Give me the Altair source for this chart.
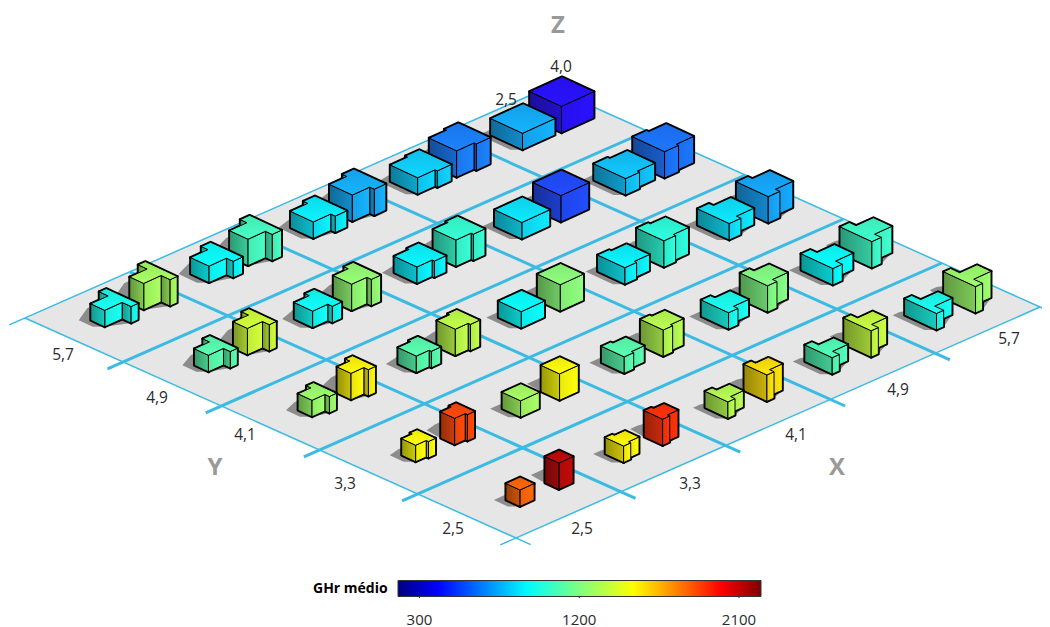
import altair as alt

AXIS_VALUES = [2.5, 3.3, 4.1, 4.9, 5.7]
AXIS_LABELS = ["2,5", "3,3", "4,1", "4,9", "5,7"]
Z_VALUES = [4.0, 2.5]

# rows: y = 2.5 .. 5.7, columns: x = 2.5 .. 5.7
GHR_Z25 = [
    [1815, 1530, 1325, 1080, 955],
    [1510, 1283, 1100, 955, 915],
    [1260, 1100, 915, 885, 855],
    [1100, 935, 885, 855, 790],
    [955, 915, 875, 815, 745],
]
GHR_Z40 = [
    [2120, 1920, 1570, 1365, 1260],
    [1875, 1510, 1325, 1200, 1040],
    [1530, 1345, 1220, 1000, 730],
    [1385, 1240, 1020, 540, 625],
    [1285, 1060, 750, 650, 420],
]

DOMAIN = [179, 404, 915, 1200, 1508, 2000, 2224]
RANGE = ["#00007f", "#0000ff", "#00ffff", "#7fff7f", "#ffff00", "#ff0000", "#7f0000"]
TICKS = [300, 1200, 2100]

W, H = 1034, 619


def color_rgb(v):
    for a, b, ca, cb in zip(DOMAIN, DOMAIN[1:], RANGE, RANGE[1:]):
        if v <= b:
            t = (v - a) / (b - a)
            pa = [int(ca[i:i + 2], 16) for i in (1, 3, 5)]
            pb = [int(cb[i:i + 2], 16) for i in (1, 3, 5)]
            c = [pa[k] + (pb[k] - pa[k]) * t for k in range(3)]
            # the printed blues of the boxes are slightly washed out
            c[0] = max(c[0], 34 * (1 - c[1] / 255) * (c[2] / 255))
            return c
    return [127, 0, 0]


def shade(rgb, f):
    return "#%02x%02x%02x" % tuple(max(0, min(255, int(c * f + 10))) for c in rgb)


def grad(rgb, f0, f1, vertical=False):
    return {
        "gradient": "linear",
        "x1": 0,
        "y1": 0,
        "x2": 0 if vertical else 1,
        "y2": 1 if vertical else 0,
        "stops": [{"offset": 0, "color": shade(rgb, f0)}, {"offset": 1, "color": shade(rgb, f1)}],
    }


# floor projection (grid cells)
FB = (516, 538)
FX = (104.8, -46.2)
FY = (-98.2, -44.0)


def fl(i, j):
    return [FB[0] + i * FX[0] + j * FY[0], FB[1] + i * FX[1] + j * FY[1]]


def feat(kind, coords, **props):
    return {"type": "Feature", "geometry": {"type": kind, "coordinates": coords}, "properties": props}


floor = [feat("Polygon", [[fl(0, 0), fl(5, 0), fl(5, 5), fl(0, 5), fl(0, 0)]])]
lines = []
for k in range(6):
    sw = 1.5 if k in (0, 5) else 3
    lines.append(feat("LineString", [fl(k, -0.15), fl(k, 5)], sw=sw))
    lines.append(feat("LineString", [fl(-0.15, k), fl(5, k)], sw=sw))

# box placement
O = (520, 500)
EX = (103.2 / 0.8, -45.75 / 0.8)
EY = (-102.5 / 0.8, -45.5 / 0.8)
ZSHIFT = (39 / 1.5, -17 / 1.5)
UX = (5.7, -2.6)
UY = (-5.6, -2.6)
HK = 6.6


def footprint(x, y):
    L, S = max(x, y), min(x, y)
    if L == S:
        return [(0, 0), (S, 0), (S, S), (0, S)], S, S
    d = (L - S) / 2
    w = 0.5 * S
    U = (L + S) / 2 + 0.2
    if x < y:
        return [(0, d), (U - w, d), (U - w, 0), (U, 0), (U, L), (U - w, L), (U - w, d + S), (0, d + S)], U, L
    return [(0, 0), (w, 0), (w, d), (U, d), (U, d + S), (w, d + S), (w, L), (0, L)], U, L


def hull(points):
    pts = sorted(set((round(p[0], 2), round(p[1], 2)) for p in points))

    def cross(o, a, b):
        return (a[0] - o[0]) * (b[1] - o[1]) - (a[1] - o[1]) * (b[0] - o[0])

    lo, up = [], []
    for p in pts:
        while len(lo) > 1 and cross(lo[-2], lo[-1], p) <= 0:
            lo.pop()
        lo.append(p)
    for p in reversed(pts):
        while len(up) > 1 and cross(up[-2], up[-1], p) <= 0:
            up.pop()
        up.append(p)
    h = lo[:-1] + up[:-1]
    return [list(p) for p in h + [h[0]]]


boxes = []
for j, y in enumerate(AXIS_VALUES):
    for i, x in enumerate(AXIS_VALUES):
        for z, table in zip(Z_VALUES, (GHR_Z40, GHR_Z25)):
            dz = z - 2.5
            cx = O[0] + (x - 2.5) * EX[0] + (y - 2.5) * EY[0] + dz * ZSHIFT[0]
            cy = O[1] + (x - 2.5) * EX[1] + (y - 2.5) * EY[1] + dz * ZSHIFT[1]
            boxes.append((cy, cx, x, y, z, table[j][i]))
boxes.sort(key=lambda b: b[0])

shadows, faces = [], []
for cy, cx, x, y, z, v in boxes:
    poly, U, L = footprint(x, y)
    h = HK * z

    def pr(u, w, up=0.0):
        a, b = u - U / 2, w - L / 2
        return [cx + a * UX[0] + b * UY[0], cy + a * UX[1] + b * UY[1] - up]

    base = [pr(u, w) for u, w in poly]
    sx, sy = (-12, 0) if z == 2.5 else (-14, -8)
    shadows.append(feat("Polygon", [hull(base + [[p[0] + sx, p[1] + sy] for p in base])]))

    rgb = color_rgb(v)
    walls = []
    n = len(poly)
    for k in range(n):
        p, q = poly[k], poly[(k + 1) % n]
        nu, nv = q[1] - p[1], p[0] - q[0]
        if nu < -1e-9 or nv < -1e-9:
            walls.append(((p[0] + q[0] + p[1] + q[1]) / 2, p, q, nu < 0))
    walls.sort(key=lambda t: -t[0])
    top = [pr(*p, h) for p in poly]
    top.append(top[0])
    wall_rings = []
    for _, p, q, dark in walls:
        ring = [pr(*p), pr(*q), pr(*q, h), pr(*p, h), pr(*p)]
        wall_rings.append((ring, dark))
    for ring, _ in wall_rings:
        faces.append(feat("Polygon", [ring], c="#000000", sw=2.8))
    faces.append(feat("Polygon", [top], c="#000000", sw=2.8))
    for ring, dark in wall_rings:
        fillc = grad(rgb, 0.56, 0.76) if dark else grad(rgb, 0.88, 1.0)
        faces.append(feat("Polygon", [ring], c=fillc, sw=1))
    faces.append(feat("Polygon", [top], c=grad(rgb, 0.88, 1.0, True), sw=1))

# legend ticks follow the colour scale
LX0, LX1, LY = 398, 761, 598
tick_lines = []
for t in TICKS:
    px = LX0 + (t - DOMAIN[0]) / (DOMAIN[-1] - DOMAIN[0]) * (LX1 - LX0)
    tick_lines.append(feat("LineString", [[px, LY - 5], [px, LY]]))

PROJ = dict(type="identity", scale=1, translate=[-8, -8])

floor_l = alt.Chart(alt.Data(values=floor)).mark_geoshape(fill="#e6e6e6", stroke=None).project(**PROJ)
lines_l = (
    alt.Chart(alt.Data(values=lines))
    .mark_geoshape(filled=False, stroke="#3bbbe4")
    .encode(strokeWidth=alt.StrokeWidth("properties.sw:Q", scale=None))
    .project(**PROJ)
)
shadow_l = alt.Chart(alt.Data(values=shadows)).mark_geoshape(fill="#8c8c8c", stroke=None).project(**PROJ)
faces_l = (
    alt.Chart(alt.Data(values=faces))
    .mark_geoshape(stroke="#000000", strokeJoin="round")
    .encode(
        fill=alt.Fill("properties.c", type="nominal", scale=None),
        strokeWidth=alt.StrokeWidth("properties.sw:Q", scale=None),
    )
    .project(**PROJ)
)

labels = []
for s, px, py in zip(AXIS_LABELS, [582, 690, 796, 898, 1009], [529, 484, 435, 390, 339]):
    labels.append({"t": s, "px": px, "py": py})
for s, px, py in zip(AXIS_LABELS, [453, 345, 245, 157, 63], [529, 484, 435, 398, 355]):
    labels.append({"t": s, "px": px, "py": py})
labels.append({"t": "2,5", "px": 506, "py": 100})
labels.append({"t": "4,0", "px": 561, "py": 67})
labels_l = (
    alt.Chart(alt.Data(values=labels))
    .mark_text(font="Open Sans", fontSize=15.5, color="#2b2b2b")
    .encode(longitude="px:Q", latitude="py:Q", text="t:N")
    .project(**PROJ)
)
axis_names = [{"t": "Z", "px": 558, "py": 26}, {"t": "Y", "px": 215, "py": 468}, {"t": "X", "px": 837, "py": 468}]
axis_l = (
    alt.Chart(alt.Data(values=axis_names))
    .mark_text(font="Open Sans", fontSize=24, fontWeight="bold", color="#999999")
    .encode(longitude="px:Q", latitude="py:Q", text="t:N")
    .project(**PROJ)
)

legend_vals = [{"v": v, "px": 0, "py": 0} for row in GHR_Z25 + GHR_Z40 for v in row]
legend_l = (
    alt.Chart(alt.Data(values=legend_vals))
    .mark_point(size=0, filled=True, opacity=1)
    .encode(
        longitude="px:Q",
        latitude="py:Q",
        fill=alt.Fill(
            "v:Q",
            scale=alt.Scale(domain=DOMAIN, range=RANGE, interpolate="rgb"),
            legend=alt.Legend(
                title="GHr médio",
                titleOrient="left",
                titlePadding=10,
                titleFont="Open Sans",
                titleFontSize=14,
                titleFontWeight="bold",
                titleColor="#000000",
                orient="none",
                legendX=305,
                legendY=572.5,
                direction="horizontal",
                gradientLength=363,
                gradientThickness=16,
                gradientOpacity=1,
                gradientStrokeColor="#333333",
                gradientStrokeWidth=1,
                values=TICKS,
                labelFont="Open Sans",
                labelFontSize=15,
                labelColor="#2b2b2b",
                labelOffset=16,
                labelOverlap=False,
                format="d",
                zindex=0,
            ),
        ),
    )
    .project(**PROJ)
)
ticks_l = (
    alt.Chart(alt.Data(values=tick_lines))
    .mark_geoshape(filled=False, stroke="#222222", strokeWidth=1)
    .project(**PROJ)
)

chart = (
    alt.layer(floor_l, lines_l, shadow_l, faces_l, labels_l, axis_l, legend_l, ticks_l)
    .resolve_scale(fill="independent", strokeWidth="independent")
    .properties(width=W, height=H, padding=0, autosize=alt.AutoSizeParams(type="none"), background="white")
    .configure_view(stroke=None)
)

chart.save("out.html", embed_options={"renderer": "svg", "actions": False})
